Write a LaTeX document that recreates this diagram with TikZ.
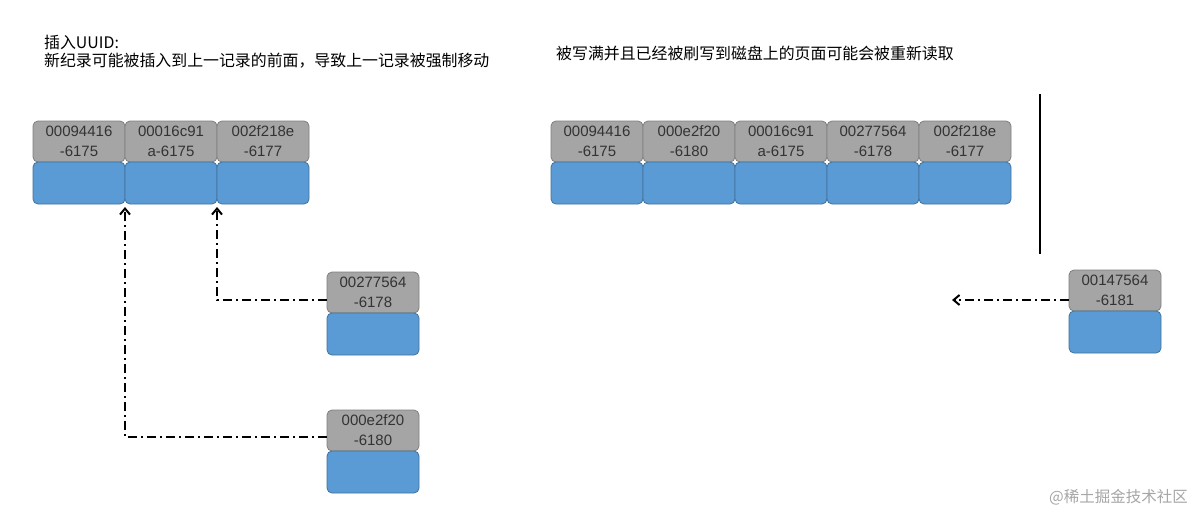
\documentclass[tikz,border=0pt]{standalone}
\usepackage{fontspec}
\setmainfont{Liberation Sans}
\newfontfamily\cjk{Noto Sans CJK SC}
\usetikzlibrary{arrows.meta}
\definecolor{cellgray}{HTML}{A5A5A5}
\definecolor{cellgrayline}{HTML}{7F7F7F}
\definecolor{cellblue}{HTML}{5B9BD5}
\definecolor{cellblueline}{HTML}{41719C}
\tikzset{
  topcell/.style={draw=cellgrayline, fill=cellgray, rounded corners=5pt, line width=0.8pt,
    minimum width=92pt, minimum height=41pt, inner sep=0pt, align=center,
    font=\fontsize{15}{20}\selectfont, text=black!80},
  botcell/.style={draw=cellblueline, fill=cellblue, rounded corners=5pt, line width=0.8pt,
    minimum width=92pt, minimum height=42pt, inner sep=0pt},
  link/.style={line width=2pt, dash pattern=on 9pt off 4pt on 2pt off 4pt,
    -{Straight Barb[length=6pt,width=10pt,line width=2pt]}},
  note/.style={font=\cjk\fontsize{15.9}{18}\selectfont, anchor=west, inner sep=0pt, align=left}
}
\begin{document}
\begin{tikzpicture}[x=1pt,y=-1pt]
\useasboundingbox (0,0) rectangle (1195,514);
\fill[white] (0,0) rectangle (1195,514);

% texts
\node[note, anchor=north west] (t1) at (44,35) {插入UUID:\\新纪录可能被插入到上一记录的前面，导致上一记录被强制移动};
\node[note] (t2) at (556,53) {被写满并且已经被刷写到磁盘上的页面可能会被重新读取};

% left row
\node[topcell] (la) at (79,141.5) {00094416\\-6175};
\node[botcell] (lab) at (79,183) {};
\node[topcell] (lb) at (171,141.5) {00016c91\\a-6175};
\node[botcell] (lbb) at (171,183) {};
\node[topcell] (lc) at (263,141.5) {002f218e\\-6177};
\node[botcell] (lcb) at (263,183) {};

% right row
\node[topcell] (ra) at (597,141.5) {00094416\\-6175};
\node[botcell] (rab) at (597,183) {};
\node[topcell] (rb) at (689,141.5) {000e2f20\\-6180};
\node[botcell] (rbb) at (689,183) {};
\node[topcell] (rc) at (781,141.5) {00016c91\\a-6175};
\node[botcell] (rcb) at (781,183) {};
\node[topcell] (rd) at (873,141.5) {00277564\\-6178};
\node[botcell] (rdb) at (873,183) {};
\node[topcell] (re) at (965,141.5) {002f218e\\-6177};
\node[botcell] (reb) at (965,183) {};

% new records
\node[topcell] (na) at (373,292.5) {00277564\\-6178};
\node[botcell] (nab) at (373,334) {};
\node[topcell] (nb) at (373,430.5) {000e2f20\\-6180};
\node[botcell] (nbb) at (373,472) {};
\node[topcell] (nc) at (1115,290.5) {00147564\\-6181};
\node[botcell] (ncb) at (1115,332) {};

% arrow targets
\coordinate (ta) at (217,207);
\coordinate (tb) at (125,207);
\coordinate (tc) at (952,300);

\draw[link] ([yshift=-7.5pt]na.west) -| (ta);
\draw[link] ([yshift=-6.5pt]nb.west) -| (tb);
\draw[link] ([yshift=-9.5pt]nc.west) -- (tc);

% separator line
\coordinate (s1) at (1040,94);
\coordinate (s2) at (1040,254);
\draw[line width=2pt] (s1) -- (s2);

% watermark
\node[font=\cjk\fontsize{15.5}{18}\selectfont, text=black!35, anchor=east, inner sep=0pt] (wm) at (1188,497) {@稀土掘金技术社区};
\end{tikzpicture}
\end{document}
